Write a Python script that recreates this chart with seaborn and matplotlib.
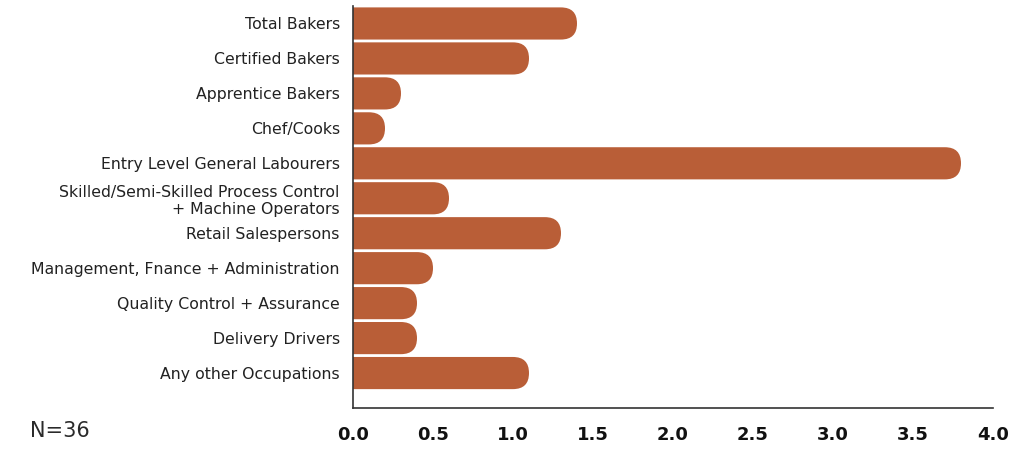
import numpy as np
import pandas as pd
import matplotlib.pyplot as plt
import seaborn as sns
from matplotlib.patches import FancyBboxPatch

occupations = [
    "Total Bakers",
    "Certified Bakers",
    "Apprentice Bakers",
    "Chef/Cooks",
    "Entry Level General Labourers",
    "Skilled/Semi-Skilled Process Control\n+ Machine Operators",
    "Retail Salespersons",
    "Management, Fnance + Administration",
    "Quality Control + Assurance",
    "Delivery Drivers",
    "Any other Occupations",
]
values = [1.4, 1.1, 0.3, 0.2, 3.8, 0.6, 1.3, 0.5, 0.4, 0.4, 1.1]
x_ticks = [0.0, 0.5, 1.0, 1.5, 2.0, 2.5, 3.0, 3.5, 4.0]
sample_note = "N=36"

df = pd.DataFrame({"Occupation": occupations, "Value": values})

sns.set_style("white")
plt.rcParams['font.family'] = ['DejaVu Sans']
bar_color = "#B95E37"

fig = plt.figure(figsize=(10.24, 4.57), dpi=100)
ax = fig.add_axes([353 / 1024, 1 - 408 / 457, 640 / 1024, 402 / 457])

sns.barplot(data=df, y="Occupation", x="Value", color=bar_color, orient="h",
            width=0.92, saturation=1, linewidth=0, ax=ax)

ax.set_xlim(0, 4)
ax.set_ylim(11.0, -0.5)

# swap plain bars for ones with a round right end
fig.canvas.draw()
px_per_x = ax.transData.transform((1, 0))[0] - ax.transData.transform((0, 0))[0]
px_per_y = abs(ax.transData.transform((0, 1))[1] - ax.transData.transform((0, 0))[1])
aspect = px_per_x / px_per_y
for p in list(ax.patches):
    x0, y0 = p.get_x(), p.get_y()
    w, h = p.get_width(), p.get_height()
    p.set_visible(False)
    r = (h * px_per_y / 2) / px_per_x
    rb = FancyBboxPatch((x0 - r, y0), w + r, h,
                        boxstyle=f"round,pad=0,rounding_size={r}",
                        mutation_aspect=aspect,
                        facecolor=bar_color, edgecolor="none", clip_on=True)
    ax.add_patch(rb)

ax.set_xticks(x_ticks)
ax.set_xticklabels([f"{t:.1f}" for t in x_ticks], fontsize=13, fontweight="bold", color="#111111")
ax.tick_params(axis="x", direction="in", length=11, width=1.2, color="#333333", pad=13)
ax.tick_params(axis="y", length=0, pad=9.5, labelsize=11.3, labelcolor="#222222")
for lbl in ax.get_yticklabels():
    lbl.set_linespacing(1.2)
ax.set_xlabel("")
ax.set_ylabel("")

for side in ["top", "right"]:
    ax.spines[side].set_visible(False)
for side in ["left", "bottom"]:
    ax.spines[side].set_color("#333333")
    ax.spines[side].set_linewidth(1.2)

fig.text(30 / 1024, 1 - 431 / 457, sample_note, fontsize=15, color="#2a2a2a",
         va="center", ha="left")

plt.savefig("out.png", dpi=100)
